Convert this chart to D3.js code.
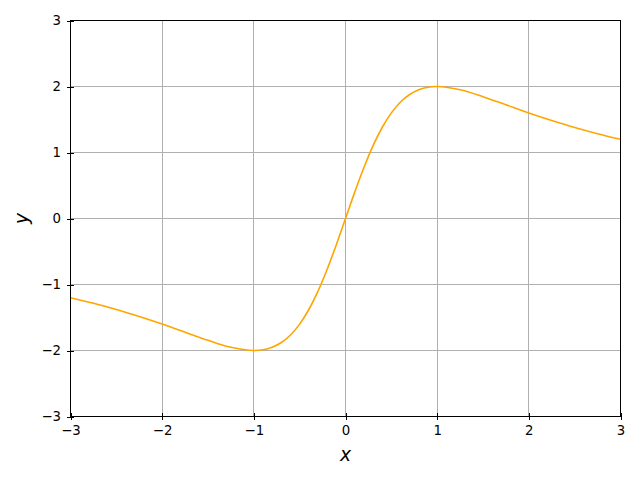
<!DOCTYPE html>
<html>
<head>
<meta charset="utf-8">
<script src="https://cdn.jsdelivr.net/npm/d3@7"></script>
<style>
  body { margin: 0; background: #fff; }
  text { font-family: "DejaVu Sans", sans-serif; }
  line, rect { shape-rendering: crispEdges; }
</style>
</head>
<body>
<svg id="chart" width="640" height="480"></svg>
<script>
// values
const xs = [-3, -2.75, -2.5, -2.25, -2, -1.75, -1.5, -1.25, -1, -0.9, -0.8, -0.7, -0.6, -0.5, -0.4, -0.3, -0.2, -0.1,
  0, 0.1, 0.2, 0.3, 0.4, 0.5, 0.6, 0.7, 0.8, 0.9, 1, 1.25, 1.5, 1.75, 2, 2.25, 2.5, 2.75, 3];
const ys = [-1.2, -1.285, -1.379, -1.485, -1.6, -1.723, -1.846, -1.951, -2, -1.989, -1.951, -1.879, -1.765, -1.6, -1.379, -1.101, -0.769, -0.396,
  0, 0.396, 0.769, 1.101, 1.379, 1.6, 1.765, 1.879, 1.951, 1.989, 2, 1.951, 1.846, 1.723, 1.6, 1.485, 1.379, 1.285, 1.2];
const xTicks = [-3, -2, -1, 0, 1, 2, 3];
const yTicks = [-3, -2, -1, 0, 1, 2, 3];

const m = { left: 70.5, right: 620.5, top: 20.5, bottom: 416.5 };
const svg = d3.select("#chart");

const x = d3.scaleLinear().domain([-3, 3]).range([m.left, m.right]);
const y = d3.scaleLinear().domain([-3, 3]).range([m.bottom, m.top]);
const fmt = d => d < 0 ? "\u2212" + Math.abs(d) : String(d);

// grid
svg.append("g").selectAll("line").data(xTicks).enter().append("line")
  .attr("x1", d => x(d)).attr("x2", d => x(d))
  .attr("y1", m.top).attr("y2", m.bottom)
  .attr("stroke", "#b0b0b0").attr("stroke-width", 1);
svg.append("g").selectAll("line").data(yTicks).enter().append("line")
  .attr("y1", d => y(d)).attr("y2", d => y(d))
  .attr("x1", m.left).attr("x2", m.right)
  .attr("stroke", "#b0b0b0").attr("stroke-width", 1);

// curve
const pts = xs.map((v, i) => [v, ys[i]]);
svg.append("path")
  .datum(pts)
  .attr("fill", "none")
  .attr("stroke", "orange")
  .attr("stroke-width", 1.6)
  .attr("d", d3.line().x(d => x(d[0])).y(d => y(d[1])).curve(d3.curveCatmullRom));

// axes
const xAxis = svg.append("g").attr("transform", `translate(0,${m.bottom})`)
  .call(d3.axisBottom(x).tickValues(xTicks).tickFormat(fmt).tickSizeInner(3.5).tickSizeOuter(0).tickPadding(6));
const yAxis = svg.append("g").attr("transform", `translate(${m.left},0)`)
  .call(d3.axisLeft(y).tickValues(yTicks).tickFormat(fmt).tickSizeInner(3.5).tickSizeOuter(0).tickPadding(6));

[xAxis, yAxis].forEach(g => {
  g.select(".domain").remove();
  g.selectAll("text").attr("font-size", "13.3px").attr("fill", "#000")
    .attr("font-family", "DejaVu Sans, sans-serif");
  g.selectAll(".tick line").attr("stroke", "#000").attr("stroke-width", 1);
});
// ticks go both in and out
xAxis.selectAll(".tick line").attr("y1", -3.5).attr("y2", 3.5);
yAxis.selectAll(".tick line").attr("x1", -3.5).attr("x2", 3.5);

// frame
svg.append("rect")
  .attr("x", m.left).attr("y", m.top)
  .attr("width", m.right - m.left).attr("height", m.bottom - m.top)
  .attr("fill", "none").attr("stroke", "#000").attr("stroke-width", 1);

// labels
svg.append("text")
  .attr("x", (m.left + m.right) / 2).attr("y", 461)
  .attr("text-anchor", "middle")
  .attr("font-size", "18.7px").attr("font-style", "italic")
  .text("x");
svg.append("text")
  .attr("transform", `translate(28,${(m.top + m.bottom) / 2}) rotate(-90)`)
  .attr("text-anchor", "middle")
  .attr("font-size", "18.7px").attr("font-style", "italic")
  .text("y");
</script>
</body>
</html>
